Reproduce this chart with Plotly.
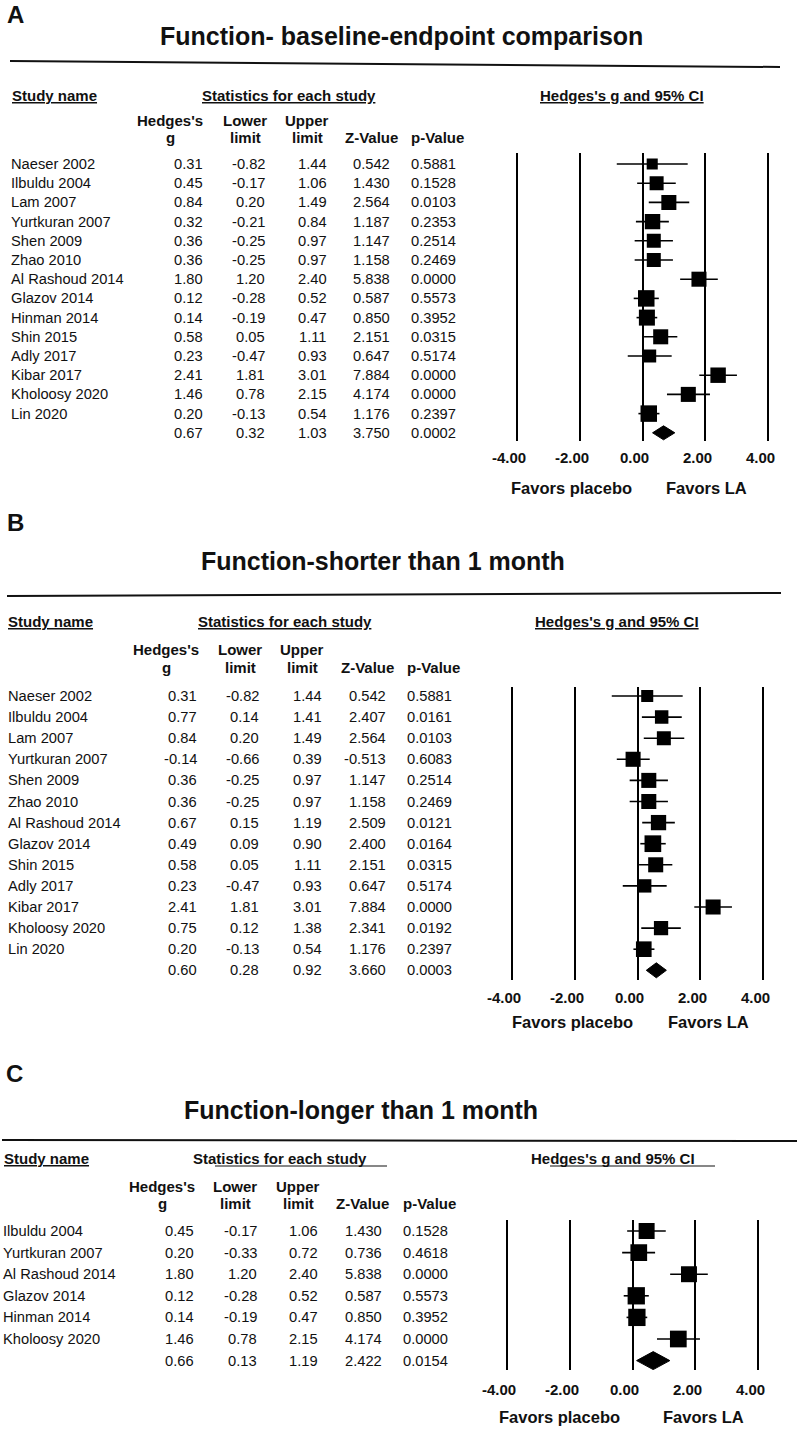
import math
import plotly.graph_objects as go

W, H = 798, 1429

# ---------------- data ----------------
titles = ["Function- baseline-endpoint comparison",
          "Function-shorter than 1 month",
          "Function-longer than 1 month"]
panel_letters = ["A", "B", "C"]
tick_vals = [-4, -2, 0, 2, 4]
favor_labels = ["Favors placebo", "Favors LA"]

studies_A = ["Naeser 2002", "Ilbuldu 2004", "Lam 2007", "Yurtkuran 2007", "Shen 2009", "Zhao 2010",
             "Al Rashoud 2014", "Glazov 2014", "Hinman 2014", "Shin 2015", "Adly 2017", "Kibar 2017",
             "Kholoosy 2020", "Lin 2020"]
g_A = [0.31, 0.45, 0.84, 0.32, 0.36, 0.36, 1.80, 0.12, 0.14, 0.58, 0.23, 2.41, 1.46, 0.20]
lower_A = [-0.82, -0.17, 0.20, -0.21, -0.25, -0.25, 1.20, -0.28, -0.19, 0.05, -0.47, 1.81, 0.78, -0.13]
upper_A = [1.44, 1.06, 1.49, 0.84, 0.97, 0.97, 2.40, 0.52, 0.47, 1.11, 0.93, 3.01, 2.15, 0.54]
z_A = [0.542, 1.430, 2.564, 1.187, 1.147, 1.158, 5.838, 0.587, 0.850, 2.151, 0.647, 7.884, 4.174, 1.176]
p_A = [0.5881, 0.1528, 0.0103, 0.2353, 0.2514, 0.2469, 0.0000, 0.5573, 0.3952, 0.0315, 0.5174, 0.0000,
       0.0000, 0.2397]
weight_A = [4.0, 6.4, 7.4, 7.8, 6.4, 6.4, 7.4, 8.9, 8.4, 7.4, 5.5, 7.8, 7.4, 8.9]
pooled_A = [0.67, 0.32, 1.03, 3.750, 0.0002]

studies_B = ["Naeser 2002", "Ilbuldu 2004", "Lam 2007", "Yurtkuran 2007", "Shen 2009", "Zhao 2010",
             "Al Rashoud 2014", "Glazov 2014", "Shin 2015", "Adly 2017", "Kibar 2017", "Kholoosy 2020",
             "Lin 2020"]
g_B = [0.31, 0.77, 0.84, -0.14, 0.36, 0.36, 0.67, 0.49, 0.58, 0.23, 2.41, 0.75, 0.20]
lower_B = [-0.82, 0.14, 0.20, -0.66, -0.25, -0.25, 0.15, 0.09, 0.05, -0.47, 1.81, 0.12, -0.13]
upper_B = [1.44, 1.41, 1.49, 0.39, 0.97, 0.97, 1.19, 0.90, 1.11, 0.93, 3.01, 1.38, 0.54]
z_B = [0.542, 2.407, 2.564, -0.513, 1.147, 1.158, 2.509, 2.400, 2.151, 0.647, 7.884, 2.341, 1.176]
p_B = [0.5881, 0.0161, 0.0103, 0.6083, 0.2514, 0.2469, 0.0121, 0.0164, 0.0315, 0.5174, 0.0000, 0.0192, 0.2397]
weight_B = [5.2, 6.5, 7.0, 8.1, 8.1, 8.1, 8.4, 10.0, 8.1, 6.4, 8.1, 7.3, 8.8]
pooled_B = [0.60, 0.28, 0.92, 3.660, 0.0003]

studies_C = ["Ilbuldu 2004", "Yurtkuran 2007", "Al Rashoud 2014", "Glazov 2014", "Hinman 2014", "Kholoosy 2020"]
g_C = [0.45, 0.20, 1.80, 0.12, 0.14, 1.46]
lower_C = [-0.17, -0.33, 1.20, -0.28, -0.19, 0.78]
upper_C = [1.06, 0.72, 2.40, 0.52, 0.47, 2.15]
z_C = [1.430, 0.736, 5.838, 0.587, 0.850, 4.174]
p_C = [0.1528, 0.4618, 0.0000, 0.5573, 0.3952, 0.0000]
weight_C = [15.3, 16.7, 15.3, 17.9, 17.9, 16.7]
pooled_C = [0.66, 0.13, 1.19, 2.422, 0.0154]

# ---------------- layout geometry (pixels) ----------------
GEO = [
    dict(letter=(15, 14), title=(401, 36), rule=((10, 61), (780, 67)), head_y=95, study_x=11,
         stats_cx=289, ci_cx=622, u_shapes=False, hdr1_y=120, hdr2_y=137,
         hdr_cx=[170, 245, 307, 371, 437], name_x=10, col_right=[204, 266, 328, 391, 457],
         row0=164, step=19.2, xm4=517, xp4=768, top=153, bottom=441, tick_y=457, fav_y=488,
         fav_off=(-71, 64), dia_half=7, max_mk=16.5),
    dict(letter=(15, 522), title=(383, 561), rule=((7, 596), (781, 593)), head_y=621, study_x=7,
         stats_cx=285, ci_cx=617, u_shapes=False, hdr1_y=650, hdr2_y=668,
         hdr_cx=[166, 240, 302, 367, 433], name_x=7, col_right=[198, 260, 323, 387, 453],
         row0=696, step=21.1, xm4=512, xp4=763, top=687, bottom=980, tick_y=997, fav_y=1022,
         fav_off=(-65, 71), dia_half=7.5, max_mk=16.7),
    dict(letter=(14, 1073), title=(361, 1110), rule=((2, 1140), (797, 1141)), head_y=1158, study_x=3,
         stats_cx=280, ci_cx=613, u_shapes=True, stats_ul=(215, 387), ci_ul=(550, 715), ul_y=1166,
         hdr1_y=1186, hdr2_y=1203,
         hdr_cx=[162, 235, 298, 362, 429], name_x=2, col_right=[195, 258, 319, 383, 449],
         row0=1231, step=21.6, xm4=507, xp4=758, top=1220, bottom=1370, tick_y=1389, fav_y=1417,
         fav_off=(-73, 71), dia_half=9, max_mk=17.3),
]

FONT = "Liberation Sans, Arial, sans-serif"
BODY = 14.7
HEAD = 15
INK = "#111111"

fig = go.Figure()
annotations = []
shapes = []


def px(x):
    return x / W


def py(y):
    return 1 - y / H


def txt(x, y, text, size, bold=False, anchor="center", xref="paper", yref="paper", xshift=0):
    annotations.append(dict(
        x=x, y=y, xref=xref, yref=yref, text=text, showarrow=False,
        xanchor=anchor, yanchor="middle", borderpad=0, xshift=xshift,
        font=dict(family=FONT, size=size, color=INK, weight="bold" if bold else "normal")))


panels = [
    (studies_A, g_A, lower_A, upper_A, z_A, p_A, weight_A, pooled_A),
    (studies_B, g_B, lower_B, upper_B, z_B, p_B, weight_B, pooled_B),
    (studies_C, g_C, lower_C, upper_C, z_C, p_C, weight_C, pooled_C),
]

layout_axes = {}
for k, (studies, g, lo, hi, z, p, w, pooled) in enumerate(panels):
    geo = GEO[k]
    idx = k + 1
    xname = "x" if idx == 1 else f"x{idx}"
    yname = "y" if idx == 1 else f"y{idx}"
    n = len(studies)

    ppu = (geo["xp4"] - geo["xm4"]) / 8.0
    xdom = [px(geo["xm4"] - 0.5 * ppu), px(geo["xp4"] + 0.5 * ppu)]
    ydom = [py(geo["bottom"]), py(geo["top"])]
    yr = [(geo["bottom"] - geo["row0"]) / geo["step"], (geo["top"] - geo["row0"]) / geo["step"]]

    layout_axes["xaxis" if idx == 1 else f"xaxis{idx}"] = dict(
        domain=xdom, range=[-4.5, 4.5], anchor=yname, tickvals=tick_vals, showticklabels=False,
        showgrid=True, gridcolor="black", gridwidth=2, zeroline=True, zerolinecolor="black",
        zerolinewidth=2, showline=False, ticks="", fixedrange=True)
    layout_axes["yaxis" if idx == 1 else f"yaxis{idx}"] = dict(
        domain=ydom, range=yr, anchor=xname, showgrid=False, zeroline=False,
        showticklabels=False, showline=False, ticks="", fixedrange=True)

    rows = list(range(n))
    wmax = max(w)
    sizes = [geo["max_mk"] * math.sqrt(v / wmax) for v in w]
    fig.add_trace(go.Scatter(
        x=g, y=rows, mode="markers", xaxis=xname, yaxis=yname, showlegend=False, opacity=1,
        marker=dict(symbol="square", size=sizes, color="black", opacity=1, line=dict(width=0)),
        error_x=dict(type="data", symmetric=False,
                     array=[b - a for a, b in zip(g, hi)],
                     arrayminus=[a - b for a, b in zip(g, lo)],
                     color="black", thickness=1.6, width=0)))

    # pooled diamond
    dh = geo["dia_half"] / geo["step"]
    pg, plo, phi = pooled[0], pooled[1], pooled[2]
    fig.add_trace(go.Scatter(
        x=[plo, pg, phi, pg, plo], y=[n, n - dh, n, n + dh, n], mode="lines", fill="toself",
        fillcolor="black", line=dict(color="black", width=1), xaxis=xname, yaxis=yname,
        showlegend=False, hoverinfo="skip"))

    # letters, title, rule
    txt(px(geo["letter"][0]), py(geo["letter"][1]), f"<b>{panel_letters[k]}</b>", 24, True)
    txt(px(geo["title"][0]), py(geo["title"][1]), f"<b>{titles[k]}</b>", 25, True)
    (rx0, ry0), (rx1, ry1) = geo["rule"]
    shapes.append(dict(type="line", xref="paper", yref="paper", x0=px(rx0), y0=py(ry0),
                       x1=px(rx1), y1=py(ry1), line=dict(color="#111111", width=2)))

    # header row
    txt(px(geo["study_x"]), py(geo["head_y"]), "<u>Study name</u>", HEAD, True, anchor="left")
    if geo["u_shapes"]:
        txt(px(geo["stats_cx"]), py(geo["head_y"]), "Statistics for each study", HEAD, True)
        txt(px(geo["ci_cx"]), py(geo["head_y"]), "Hedges's g and 95% CI", HEAD, True)
        for a, b in (geo["stats_ul"], geo["ci_ul"]):
            shapes.append(dict(type="line", xref="paper", yref="paper", x0=px(a), x1=px(b),
                               y0=py(geo["ul_y"]), y1=py(geo["ul_y"]),
                               line=dict(color="#111111", width=1.2)))
    else:
        txt(px(geo["stats_cx"]), py(geo["head_y"]), "<u>Statistics for each study</u>", HEAD, True)
        txt(px(geo["ci_cx"]), py(geo["head_y"]), "<u>Hedges's g and 95% CI</u>", HEAD, True)

    hdr_top = ["Hedges's", "Lower", "Upper", "", ""]
    hdr_bot = ["g", "limit", "limit", "Z-Value", "p-Value"]
    for cx, t1, t2 in zip(geo["hdr_cx"], hdr_top, hdr_bot):
        if t1:
            txt(px(cx), py(geo["hdr1_y"]), t1, HEAD, True)
        txt(px(cx), py(geo["hdr2_y"]), t2, HEAD, True)

    # table rows
    yref = yname
    all_rows = list(zip(studies, g, lo, hi, z, p)) + [("",) + tuple(pooled)]
    for i, (name, gg, ll, uu, zz, pp) in enumerate(all_rows):
        if name:
            txt(px(geo["name_x"]), i, name, BODY, anchor="left", yref=yref)
        vals = [f"{gg:.2f}", f"{ll:.2f}", f"{uu:.2f}", f"{zz:.3f}", f"{pp:.4f}"]
        for xr, v in zip(geo["col_right"], vals):
            txt(px(xr), i, v, BODY, anchor="right", yref=yref)

    # tick labels and favours
    for v in tick_vals:
        txt(v, py(geo["tick_y"]), f"{v:.2f}", 15, True, xref=xname, xshift=-8)
    txt(0, py(geo["fav_y"]), favor_labels[0], 16.5, True, xref=xname, xshift=geo["fav_off"][0])
    txt(0, py(geo["fav_y"]), favor_labels[1], 16.5, True, xref=xname, xshift=geo["fav_off"][1])

fig.update_layout(
    width=W, height=H, margin=dict(l=0, r=0, t=0, b=0),
    paper_bgcolor="white", plot_bgcolor="white",
    annotations=annotations, shapes=shapes, showlegend=False,
    **layout_axes)

fig.write_html("out.html", config={"displayModeBar": False},
               post_script="document.body.style.margin='0';document.body.style.overflow='hidden';")
